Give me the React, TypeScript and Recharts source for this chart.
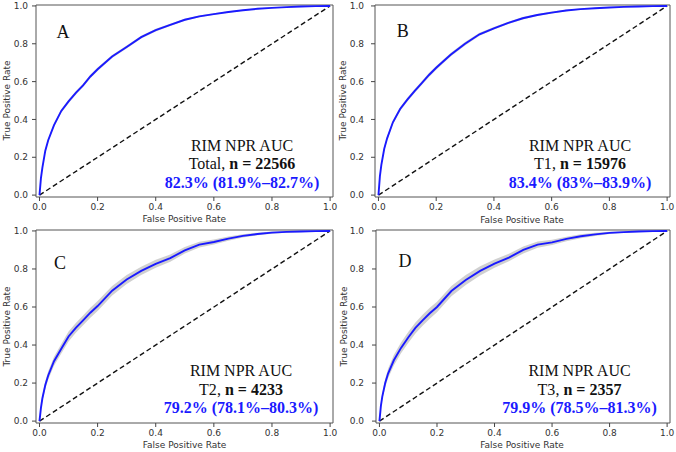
import { ComposedChart, Line, Area, XAxis, YAxis, ReferenceLine, ReferenceArea } from "recharts";

// shared false positive rate grid
const FPR = [
  0, 0.005, 0.01, 0.02, 0.03, 0.05, 0.075, 0.1, 0.125, 0.15, 0.175, 0.2, 0.25, 0.3,
  0.35, 0.4, 0.45, 0.5, 0.55, 0.6, 0.65, 0.7, 0.75, 0.8, 0.85, 0.9, 0.95, 1.0,
];

// true positive rate per panel
const TPR_A = [
  0, 0.09, 0.145, 0.235, 0.29, 0.37, 0.445, 0.495, 0.54, 0.58, 0.627, 0.665, 0.733, 0.783,
  0.835, 0.872, 0.9, 0.927, 0.945, 0.957, 0.968, 0.977, 0.985, 0.99, 0.994, 0.997, 0.999, 1,
];
const TPR_B = [
  0, 0.1, 0.16, 0.245, 0.3, 0.385, 0.455, 0.505, 0.55, 0.592, 0.635, 0.673, 0.742, 0.8,
  0.85, 0.882, 0.91, 0.935, 0.952, 0.965, 0.976, 0.983, 0.988, 0.992, 0.995, 0.997, 0.999, 1,
];
const TPR_C = [
  0, 0.07, 0.12, 0.19, 0.24, 0.315, 0.38, 0.445, 0.49, 0.53, 0.57, 0.605, 0.686, 0.745,
  0.79, 0.827, 0.857, 0.898, 0.928, 0.942, 0.96, 0.974, 0.984, 0.991, 0.995, 0.997, 0.999, 1,
];
const TPR_D = [
  0, 0.08, 0.13, 0.2, 0.25, 0.32, 0.385, 0.44, 0.49, 0.53, 0.567, 0.6, 0.684, 0.742,
  0.79, 0.828, 0.86, 0.9, 0.928, 0.94, 0.958, 0.972, 0.982, 0.99, 0.994, 0.997, 0.999, 1,
];

// half width of the grey confidence band
const CI_A = [
  0, 0.004, 0.006, 0.008, 0.008, 0.009, 0.009, 0.009, 0.009, 0.009, 0.009, 0.009, 0.008, 0.008,
  0.007, 0.007, 0.006, 0.005, 0.005, 0.004, 0.004, 0.003, 0.003, 0.002, 0.002, 0.001, 0.001, 0,
];
const CI_B = [
  0, 0.005, 0.007, 0.009, 0.01, 0.01, 0.01, 0.01, 0.01, 0.01, 0.01, 0.01, 0.009, 0.009,
  0.008, 0.007, 0.006, 0.006, 0.005, 0.005, 0.004, 0.003, 0.003, 0.002, 0.002, 0.001, 0.001, 0,
];
const CI_C = [
  0, 0.012, 0.016, 0.02, 0.022, 0.024, 0.025, 0.026, 0.026, 0.026, 0.026, 0.026, 0.025, 0.024,
  0.022, 0.021, 0.019, 0.017, 0.015, 0.013, 0.011, 0.009, 0.007, 0.006, 0.004, 0.003, 0.002, 0,
];
const CI_D = [
  0, 0.014, 0.018, 0.022, 0.025, 0.027, 0.028, 0.029, 0.029, 0.029, 0.029, 0.028, 0.027, 0.026,
  0.024, 0.022, 0.02, 0.018, 0.016, 0.014, 0.012, 0.01, 0.008, 0.006, 0.004, 0.003, 0.002, 0,
];

const LETTERS = ["A", "B", "C", "D"];
const GROUPS = ["Total", "T1", "T2", "T3"];
const N_VALUES = ["22566", "15976", "4233", "2357"];
const AUC_LABELS = [
  "82.3% (81.9%–82.7%)",
  "83.4% (83%–83.9%)",
  "79.2% (78.1%–80.3%)",
  "79.9% (78.5%–81.3%)",
];
const TICKS = [0, 0.2, 0.4, 0.6, 0.8, 1.0];

const X_MIN = -0.012;
const X_MAX = 1.01;
const Y_MIN = -0.01;
const Y_MAX = 1.005;

const BLUE = "#1a1aff";
const AXIS_FONT = "'DejaVu Sans', sans-serif";
const SERIF = "'Liberation Serif', 'Times New Roman', serif";

const SERIES = [
  { tpr: TPR_A, ci: CI_A },
  { tpr: TPR_B, ci: CI_B },
  { tpr: TPR_C, ci: CI_C },
  { tpr: TPR_D, ci: CI_D },
];

// page positions of each panel
const LAYOUT = [
  { left: 0, top: 0, yw: 36, tm: 4, mTop: 5, plotW: 297, plotH: 192,
    letter: [63, 38], textX: 242, base: [150.7, 169.2, 187.7], yLab: [6.7, 100.5], xLab: [184.3, 219] },
  { left: 338, top: 0, yw: 37, tm: 7, mTop: 5, plotW: 295, plotH: 192,
    letter: [402.7, 37], textX: 580, base: [150.7, 169.2, 187.7], yLab: [343.3, 100.5], xLab: [522, 219.5] },
  { left: 0, top: 226, yw: 36, tm: 4, mTop: 4, plotW: 297, plotH: 193,
    letter: [60, 268.5], textX: 241, base: [376, 394.5, 413.2], yLab: [6.7, 326.5], xLab: [184.5, 444.7] },
  { left: 338, top: 226, yw: 38, tm: 8, mTop: 4, plotW: 294, plotH: 193,
    letter: [405, 266.5], textX: 579.5, base: [376, 394.5, 413.2], yLab: [344.3, 326.5], xLab: [522, 444.7] },
];

const W = 338;
const H = 226;

function RocPanel({ idx }: { idx: number }) {
  const lay = LAYOUT[idx];
  const s = SERIES[idx];
  const rows = FPR.map((x, i) => ({
    fpr: x,
    tpr: s.tpr[i],
    band: [s.tpr[i] - s.ci[i], Math.min(1, s.tpr[i] + s.ci[i])],
  }));
  const tickStyle = { fill: "#333", fontSize: 9, fontFamily: AXIS_FONT };

  return (
    <div style={{ position: "absolute", left: lay.left, top: lay.top, width: W, height: H }}>
      <ComposedChart
        width={W}
        height={H}
        data={rows}
        margin={{ top: lay.mTop, right: W - lay.yw - lay.plotW, bottom: 0, left: 0 }}
      >
        <XAxis
          type="number"
          dataKey="fpr"
          domain={[X_MIN, X_MAX]}
          ticks={TICKS}
          tickFormatter={(v: number) => v.toFixed(1)}
          height={H - lay.mTop - lay.plotH}
          tickSize={4}
          tickMargin={3}
          axisLine={false}
          tickLine={{ stroke: "#444" }}
          tick={tickStyle}
          allowDataOverflow
          interval={0}
        />
        <YAxis
          type="number"
          domain={[Y_MIN, Y_MAX]}
          ticks={TICKS}
          tickFormatter={(v: number) => v.toFixed(1)}
          width={lay.yw}
          tickSize={4}
          tickMargin={lay.tm}
          axisLine={false}
          tickLine={{ stroke: "#444" }}
          tick={tickStyle}
          allowDataOverflow
          interval={0}
        />
        <Area
          type="linear"
          dataKey="band"
          stroke="none"
          fill="#c4c4c4"
          fillOpacity={0.8}
          isAnimationActive={false}
        />
        <ReferenceLine
          segment={[{ x: 0, y: 0 }, { x: 1, y: 1 }]}
          stroke="#111"
          strokeWidth={1.4}
          strokeDasharray="5 3"
        />
        <Line
          type="linear"
          dataKey="tpr"
          stroke={BLUE}
          strokeWidth={1.9}
          dot={false}
          isAnimationActive={false}
        />
        <ReferenceArea x1={X_MIN} x2={X_MAX} y1={Y_MIN} y2={Y_MAX} fill="none" stroke="#555" strokeWidth={1} />
      </ComposedChart>
    </div>
  );
}

function Annotations() {
  return (
    <svg
      width={676}
      height={452}
      style={{ position: "absolute", left: 0, top: 0, pointerEvents: "none" }}
    >
      {LAYOUT.map((lay, i) => (
        <g key={i}>
          <text x={lay.letter[0]} y={lay.letter[1]} textAnchor="middle" fontFamily={SERIF} fontSize={18} fill="#111">
            {LETTERS[i]}
          </text>
          <text x={lay.textX} y={lay.base[0]} textAnchor="middle" fontFamily={SERIF} fontSize={16} fill="#111">
            RIM NPR AUC
          </text>
          <text x={lay.textX} y={lay.base[1]} textAnchor="middle" fontFamily={SERIF} fontSize={16} fill="#111">
            {GROUPS[i]},{" "}
            <tspan fontWeight="bold">n = {N_VALUES[i]}</tspan>
          </text>
          <text x={lay.textX} y={lay.base[2]} textAnchor="middle" fontFamily={SERIF} fontSize={16} fontWeight="bold" fill={BLUE}>
            {AUC_LABELS[i]}
          </text>
          <text
            x={lay.yLab[0]}
            y={lay.yLab[1]}
            textAnchor="middle"
            dominantBaseline="central"
            transform={`rotate(-90 ${lay.yLab[0]} ${lay.yLab[1]})`}
            fontFamily={AXIS_FONT}
            fontSize={9}
            fill="#333"
          >
            True Positive Rate
          </text>
          <text
            x={lay.xLab[0]}
            y={lay.xLab[1]}
            textAnchor="middle"
            dominantBaseline="central"
            fontFamily={AXIS_FONT}
            fontSize={9}
            fill="#333"
          >
            False Positive Rate
          </text>
        </g>
      ))}
    </svg>
  );
}

export default function App() {
  return (
    <div style={{ position: "relative", width: 676, height: 452, background: "#fff", overflow: "hidden" }}>
      <style>{"body{margin:0}"}</style>
      {LAYOUT.map((_, i) => (
        <RocPanel key={i} idx={i} />
      ))}
      <Annotations />
    </div>
  );
}
